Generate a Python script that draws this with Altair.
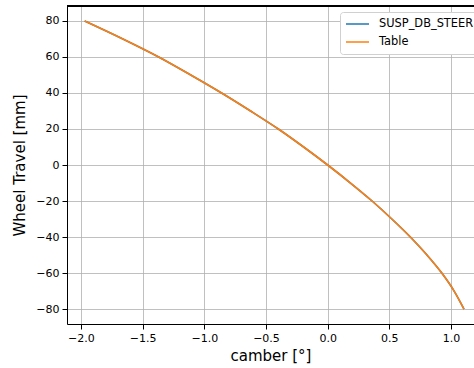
import altair as alt
import pandas as pd

camber = [-1.97, -1.66, -1.37, -1.11, -0.86, -0.625, -0.40, -0.195, 0.0,
          0.185, 0.36, 0.52, 0.67, 0.805, 0.925, 1.025, 1.105]
travel = [80, 70, 60, 50, 40, 30, 20, 10, 0, -10, -20, -30, -40, -50, -60, -70, -80]
series = ["SUSP_DB_STEER", "Table"]
colors = ["#1f77b4", "#ff7f0e"]
x_ticks = [-2.0, -1.5, -1.0, -0.5, 0.0, 0.5, 1.0]
y_ticks = [-80, -60, -40, -20, 0, 20, 40, 60, 80]

frames = []
for s in series:
    frames.append(pd.DataFrame({"camber": camber, "travel": travel, "series": s}))
df = pd.concat(frames, ignore_index=True)

FONT = "DejaVu Sans"

xenc = alt.X("camber:Q", title="camber [°]",
             scale=alt.Scale(domain=[-2.113, 1.186], nice=False, zero=False),
             axis=alt.Axis(values=x_ticks, format=".1f", grid=True, gridColor="#b0b0b0",
                           gridWidth=0.8, domainColor="black", domainWidth=1,
                           tickColor="black", tickSize=5, labelFontSize=11,
                           labelColor="black", labelFont=FONT, labelPadding=3,
                           titleFont=FONT, titleFontSize=15, titleFontWeight="normal",
                           titleColor="black", titlePadding=5, labelFlush=False))
yenc = alt.Y("travel:Q", title="Wheel Travel [mm]",
             scale=alt.Scale(domain=[-88.3, 88.3], nice=False, zero=False),
             axis=alt.Axis(values=y_ticks, format="d", grid=True, gridColor="#b0b0b0",
                           gridWidth=0.8, domainColor="black", domainWidth=1,
                           tickColor="black", tickSize=5, labelFontSize=11,
                           labelColor="black", labelFont=FONT, labelPadding=3,
                           titleFont=FONT, titleFontSize=15, titleFontWeight="normal",
                           titleColor="black", titlePadding=8))
cenc = alt.Color("series:N", title=None,
                 scale=alt.Scale(domain=series, range=colors),
                 legend=alt.Legend(orient="none", legendX=273, legendY=6,
                                   symbolType="stroke", symbolSize=529,
                                   symbolStrokeWidth=1.6, labelFontSize=11.4,
                                   labelFont=FONT, labelColor="black",
                                   labelOffset=9, clipHeight=14, rowPadding=4,
                                   padding=5, fillColor="white",
                                   strokeColor="#d0d0d0", cornerRadius=3))

layers = []
for s in series:
    layers.append(
        alt.Chart(df).transform_filter(alt.datum.series == s)
        .mark_line(strokeWidth=1.6, interpolate="monotone")
        .encode(x=xenc, y=yenc, color=cenc, order=alt.Order("camber:Q"))
    )

top_border = alt.Chart(df).mark_rule(color="black", strokeWidth=1).encode(
    x=alt.value(0), x2=alt.value(407), y=alt.value(0)
)

chart = alt.layer(*layers, top_border).properties(
    width=407, height=318,
    autosize=alt.AutoSizeParams(type="none"),
    padding={"left": 67, "top": 6, "right": 0, "bottom": 44},
).configure_view(stroke=None).configure(background="white")

chart.save("out.html", embed_options={"renderer": "svg", "actions": False})
